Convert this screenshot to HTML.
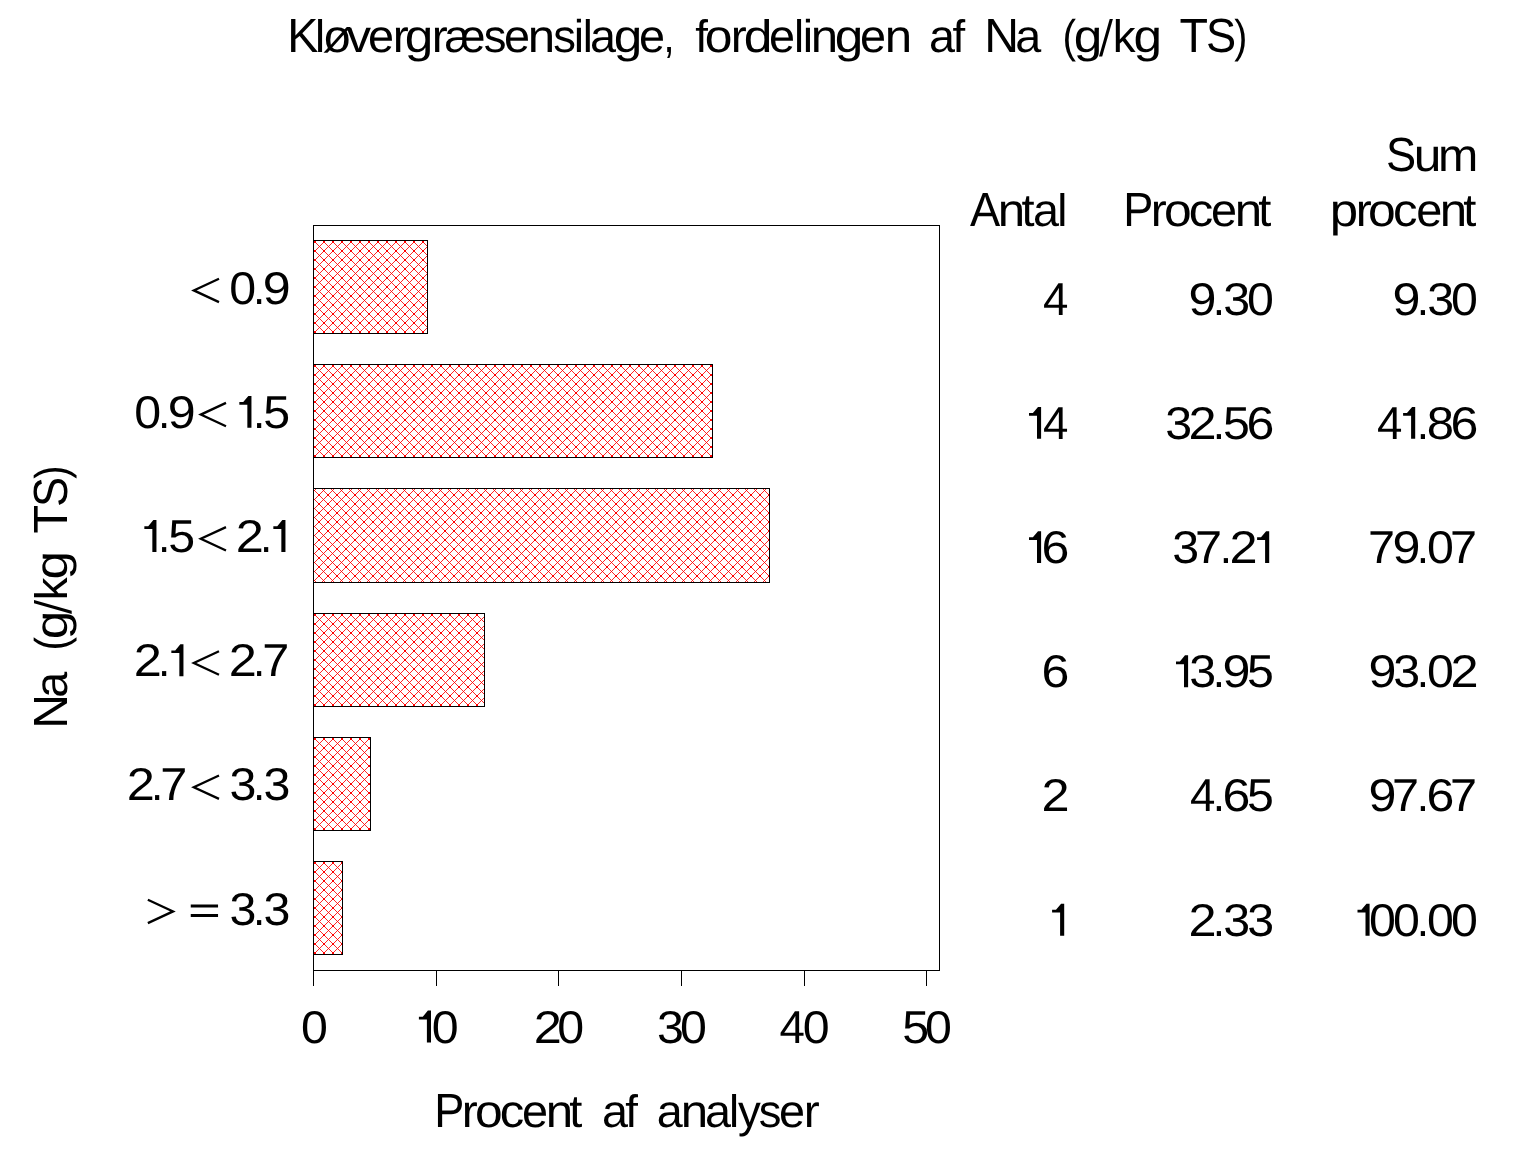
<!DOCTYPE html>
<html><head><meta charset="utf-8"><title>Kløvergræsensilage, fordelingen af Na (g/kg TS)</title>
<style>
html,body{margin:0;padding:0;background:#fff;overflow:hidden}
svg{display:block;will-change:transform}
text{font-family:"Liberation Sans",sans-serif;font-size:46px;fill:#000;text-rendering:geometricPrecision}
text.h{fill:none;stroke:none}
path.s{fill:none;stroke:#000;stroke-width:2.3;stroke-linejoin:miter}
</style></head><body>
<svg width="1536" height="1152" viewBox="0 0 1536 1152">
<rect width="1536" height="1152" fill="#fff"/>
<defs>
<pattern id="h0" x="315" y="242" width="9" height="9" patternUnits="userSpaceOnUse"><path d="M-1,-1L10,10M10,-1L-1,10" stroke="#f00" stroke-width="0.85" fill="none"/><path d="M-1,-1h2v2h-2zM8,-1h2v2h-2zM-1,8h2v2h-2zM8,8h2v2h-2z" fill="#f00"/></pattern>
<pattern id="h1" x="315" y="366" width="9" height="9" patternUnits="userSpaceOnUse"><path d="M-1,-1L10,10M10,-1L-1,10" stroke="#f00" stroke-width="0.85" fill="none"/><path d="M-1,-1h2v2h-2zM8,-1h2v2h-2zM-1,8h2v2h-2zM8,8h2v2h-2z" fill="#f00"/></pattern>
<pattern id="h2" x="319" y="495" width="9" height="9" patternUnits="userSpaceOnUse"><path d="M-1,-1L10,10M10,-1L-1,10" stroke="#f00" stroke-width="0.85" fill="none"/><path d="M-1,-1h2v2h-2zM8,-1h2v2h-2zM-1,8h2v2h-2zM8,8h2v2h-2z" fill="#f00"/></pattern>
<pattern id="h3" x="315" y="615" width="9" height="9" patternUnits="userSpaceOnUse"><path d="M-1,-1L10,10M10,-1L-1,10" stroke="#f00" stroke-width="0.85" fill="none"/><path d="M-1,-1h2v2h-2zM8,-1h2v2h-2zM-1,8h2v2h-2zM8,8h2v2h-2z" fill="#f00"/></pattern>
<pattern id="h4" x="315" y="739" width="9" height="9" patternUnits="userSpaceOnUse"><path d="M-1,-1L10,10M10,-1L-1,10" stroke="#f00" stroke-width="0.85" fill="none"/><path d="M-1,-1h2v2h-2zM8,-1h2v2h-2zM-1,8h2v2h-2zM8,8h2v2h-2z" fill="#f00"/></pattern>
<pattern id="h5" x="315" y="863" width="9" height="9" patternUnits="userSpaceOnUse"><path d="M-1,-1L10,10M10,-1L-1,10" stroke="#f00" stroke-width="0.85" fill="none"/><path d="M-1,-1h2v2h-2zM8,-1h2v2h-2zM-1,8h2v2h-2zM8,8h2v2h-2z" fill="#f00"/></pattern>
</defs>
<rect x="314.0" y="241.0" width="113" height="92" fill="url(#h0)"/>
<rect x="313.5" y="240.5" width="114" height="93" fill="none" stroke="#000"/>
<rect x="314.0" y="365.0" width="398" height="92" fill="url(#h1)"/>
<rect x="313.5" y="364.5" width="399" height="93" fill="none" stroke="#000"/>
<rect x="314.0" y="489.0" width="455" height="93" fill="url(#h2)"/>
<rect x="313.5" y="488.5" width="456" height="94" fill="none" stroke="#000"/>
<rect x="314.0" y="614.0" width="170" height="92" fill="url(#h3)"/>
<rect x="313.5" y="613.5" width="171" height="93" fill="none" stroke="#000"/>
<rect x="314.0" y="738.0" width="56" height="92" fill="url(#h4)"/>
<rect x="313.5" y="737.5" width="57" height="93" fill="none" stroke="#000"/>
<rect x="314.0" y="862.0" width="28" height="92" fill="url(#h5)"/>
<rect x="313.5" y="861.5" width="29" height="93" fill="none" stroke="#000"/>
<rect x="313.5" y="225.5" width="626" height="745" fill="none" stroke="#000"/>
<rect x="313" y="970" width="1" height="16"/>
<rect x="436" y="970" width="1" height="16"/>
<rect x="558" y="970" width="1" height="16"/>
<rect x="681" y="970" width="1" height="16"/>
<rect x="804" y="970" width="1" height="16"/>
<rect x="926" y="970" width="1" height="16"/>
<path d="M1109.70,18.90L1112.90,18.90L1102.20,56.60L1099.00,56.60Z"/>
<path d="M34.00,603.30L34.00,600.10L71.70,610.80L71.70,614.00Z"/>
<path d="M1037.00,438.85H1041.10V406.95H1038.00L1032.90,413.05H1029.00V415.75H1037.00Z"/>
<path d="M1411.10,438.85H1415.20V406.95H1412.10L1407.00,413.05H1403.10V415.75H1411.10Z"/>
<path d="M1037.00,563.05H1041.10V531.15H1038.00L1032.90,537.25H1029.00V539.95H1037.00Z"/>
<path d="M1265.10,563.05H1269.20V531.15H1266.10L1261.00,537.25H1257.10V539.95H1265.10Z"/>
<path d="M1184.00,687.25H1188.10V655.35H1185.00L1179.90,661.45H1176.00V664.15H1184.00Z"/>
<path d="M1060.10,935.65H1064.20V903.75H1061.10L1056.00,909.85H1052.10V912.55H1060.10Z"/>
<path d="M1365.50,935.65H1369.60V903.75H1366.50L1361.40,909.85H1357.50V912.55H1365.50Z"/>
<path d="M426.90,1042.50H431.00V1010.60H427.90L422.80,1016.70H418.90V1019.40H426.90Z"/>
<path class="s" d="M219.00,278.70L193.80,290.40L219.00,302.10"/>
<path d="M247.35,427.80H251.45V395.90H248.35L243.25,402.00H239.35V404.70H247.35Z"/>
<path class="s" d="M226.00,402.90L200.80,414.60L226.00,426.30"/>
<path d="M281.35,552.00H285.45V520.10H282.35L277.25,526.20H273.35V528.90H281.35Z"/>
<path class="s" d="M226.00,527.10L200.80,538.80L226.00,550.50"/>
<path d="M152.35,552.00H156.45V520.10H153.35L148.25,526.20H144.35V528.90H152.35Z"/>
<path class="s" d="M219.00,651.30L193.80,663.00L219.00,674.70"/>
<path d="M179.35,676.20H183.45V644.30H180.35L175.25,650.40H171.35V653.10H179.35Z"/>
<path class="s" d="M219.00,775.50L193.80,787.20L219.00,798.90"/>
<path d="M190.75,904.60h27.3v3h-27.3zM190.75,914.10h27.3v3h-27.3z"/>
<path class="s" d="M147.85,899.70L173.05,911.40L147.85,923.10"/>
<text transform="translate(287.17,52.00) scale(1.0150,1.0430)">K</text>
<text transform="translate(314.98,52.00) scale(0.9890,0.9900)">l</text>
<text transform="translate(322.47,52.00) scale(1.0450,1.0000)">ø</text>
<text transform="translate(346.53,52.00) scale(1.0670,1.0000)">v</text>
<text transform="translate(368.01,52.00) scale(1.0190,1.0000)">e</text>
<text transform="translate(392.71,52.00) scale(1.0430,1.0000)">r</text>
<text transform="translate(404.74,52.00) scale(1.1170,1.0000)">g</text>
<text transform="translate(431.81,52.00) scale(1.0430,1.0000)">r</text>
<text transform="translate(444.41,52.00) scale(1.0030,1.0000)">æ</text>
<text transform="translate(483.74,52.00) scale(0.9870,1.0000)">s</text>
<text transform="translate(504.01,52.00) scale(1.0190,1.0000)">e</text>
<text transform="translate(527.63,52.00) scale(1.0700,1.0000)">n</text>
<text transform="translate(553.14,52.00) scale(0.9870,1.0000)">s</text>
<text transform="translate(573.68,52.00) scale(1.0140,1.0000)">i</text>
<text transform="translate(582.83,52.00) scale(0.9890,0.9900)">l</text>
<text transform="translate(589.91,52.00) scale(1.0160,1.0000)">a</text>
<text transform="translate(613.84,52.00) scale(1.1170,1.0000)">g</text>
<text transform="translate(639.01,52.00) scale(1.0190,1.0000)">e</text>
<text transform="translate(663.53,52.00) scale(0.8640,1.0000)">,</text>
<text transform="translate(695.25,52.00) scale(0.9920,0.9900)">f</text>
<text transform="translate(704.81,52.00) scale(1.0820,1.0000)">o</text>
<text transform="translate(730.81,52.00) scale(1.0430,1.0000)">r</text>
<text transform="translate(743.73,52.00) scale(1.1220,0.9900)">d</text>
<text transform="translate(768.91,52.00) scale(1.0190,1.0000)">e</text>
<text transform="translate(793.93,52.00) scale(0.9890,0.9900)">l</text>
<text transform="translate(802.68,52.00) scale(1.0140,1.0000)">i</text>
<text transform="translate(810.73,52.00) scale(1.0700,1.0000)">n</text>
<text transform="translate(834.84,52.00) scale(1.1170,1.0000)">g</text>
<text transform="translate(860.01,52.00) scale(1.0190,1.0000)">e</text>
<text transform="translate(884.73,52.00) scale(1.0700,1.0000)">n</text>
<text transform="translate(928.91,52.00) scale(1.0160,1.0000)">a</text>
<text transform="translate(952.45,52.00) scale(0.9920,0.9900)">f</text>
<text transform="translate(984.25,52.00) scale(1.0470,1.0430)">N</text>
<text transform="translate(1015.31,52.00) scale(1.0160,1.0000)">a</text>
<text transform="translate(1062.47,52.00) scale(0.8860,1.0000)">(</text>
<text transform="translate(1073.64,52.00) scale(1.1170,1.0000)">g</text>
<text class="h" transform="translate(1099.00,52.00)">/</text>
<text transform="translate(1112.83,52.00) scale(0.9920,0.9900)">k</text>
<text transform="translate(1133.54,52.00) scale(1.1170,1.0000)">g</text>
<text transform="translate(1179.60,52.00) scale(1.0150,1.0430)">T</text>
<text transform="translate(1205.95,52.00) scale(0.9820,1.0430)">S</text>
<text transform="translate(1234.17,52.00) scale(0.8530,1.0000)">)</text>
<text transform="translate(1385.95,170.60) scale(0.9820,1.0430)">S</text>
<text transform="translate(1413.67,170.60) scale(1.0800,1.0000)">u</text>
<text transform="translate(1437.89,170.60) scale(1.0520,1.0000)">m</text>
<text transform="translate(969.91,225.80) scale(0.9840,1.0430)">A</text>
<text transform="translate(997.73,225.80) scale(1.0700,1.0000)">n</text>
<text transform="translate(1021.39,225.80) scale(1.0220,1.0000)">t</text>
<text transform="translate(1033.01,225.80) scale(1.0160,1.0000)">a</text>
<text transform="translate(1057.13,225.80) scale(0.9890,0.9900)">l</text>
<text transform="translate(1123.30,225.80) scale(0.9800,1.0430)">P</text>
<text transform="translate(1150.81,225.80) scale(1.0430,1.0000)">r</text>
<text transform="translate(1163.91,225.80) scale(1.0820,1.0000)">o</text>
<text transform="translate(1188.82,225.80) scale(1.0640,1.0000)">c</text>
<text transform="translate(1211.11,225.80) scale(1.0190,1.0000)">e</text>
<text transform="translate(1234.73,225.80) scale(1.0700,1.0000)">n</text>
<text transform="translate(1258.29,225.80) scale(1.0220,1.0000)">t</text>
<text transform="translate(1329.82,225.80) scale(1.1070,1.0000)">p</text>
<text transform="translate(1355.71,225.80) scale(1.0430,1.0000)">r</text>
<text transform="translate(1367.91,225.80) scale(1.0820,1.0000)">o</text>
<text transform="translate(1392.92,225.80) scale(1.0640,1.0000)">c</text>
<text transform="translate(1416.21,225.80) scale(1.0190,1.0000)">e</text>
<text transform="translate(1439.63,225.80) scale(1.0700,1.0000)">n</text>
<text transform="translate(1463.29,225.80) scale(1.0220,1.0000)">t</text>
<text transform="translate(434.30,1127.00) scale(0.9800,1.0430)">P</text>
<text transform="translate(461.81,1127.00) scale(1.0430,1.0000)">r</text>
<text transform="translate(474.91,1127.00) scale(1.0820,1.0000)">o</text>
<text transform="translate(499.82,1127.00) scale(1.0640,1.0000)">c</text>
<text transform="translate(522.11,1127.00) scale(1.0190,1.0000)">e</text>
<text transform="translate(545.73,1127.00) scale(1.0700,1.0000)">n</text>
<text transform="translate(569.29,1127.00) scale(1.0220,1.0000)">t</text>
<text transform="translate(602.01,1127.00) scale(1.0160,1.0000)">a</text>
<text transform="translate(625.25,1127.00) scale(0.9920,0.9900)">f</text>
<text transform="translate(656.81,1127.00) scale(1.0160,1.0000)">a</text>
<text transform="translate(680.73,1127.00) scale(1.0700,1.0000)">n</text>
<text transform="translate(705.11,1127.00) scale(1.0160,1.0000)">a</text>
<text transform="translate(728.93,1127.00) scale(0.9890,0.9900)">l</text>
<text transform="translate(737.99,1127.00) scale(0.9910,1.0000)">y</text>
<text transform="translate(758.64,1127.00) scale(0.9870,1.0000)">s</text>
<text transform="translate(779.01,1127.00) scale(1.0190,1.0000)">e</text>
<text transform="translate(803.81,1127.00) scale(1.0430,1.0000)">r</text>
<text transform="translate(67.10,728.75) rotate(-90) scale(1.0470,1.0430)">N</text>
<text transform="translate(67.10,697.69) rotate(-90) scale(1.0160,1.0000)">a</text>
<text transform="translate(67.10,650.53) rotate(-90) scale(0.8860,1.0000)">(</text>
<text transform="translate(67.10,639.36) rotate(-90) scale(1.1170,1.0000)">g</text>
<text class="h" transform="translate(67.10,614.00) rotate(-90)">/</text>
<text transform="translate(67.10,600.17) rotate(-90) scale(0.9920,0.9900)">k</text>
<text transform="translate(67.10,579.46) rotate(-90) scale(1.1170,1.0000)">g</text>
<text transform="translate(67.10,533.40) rotate(-90) scale(1.0150,1.0430)">T</text>
<text transform="translate(67.10,507.05) rotate(-90) scale(0.9820,1.0430)">S</text>
<text transform="translate(67.10,478.83) rotate(-90) scale(0.8530,1.0000)">)</text>
<text transform="translate(1042.95,314.65) scale(0.9922,1.0000)">4</text>
<text transform="translate(1247.06,314.65) scale(1.0505,1.0000)">0</text>
<text transform="translate(1223.21,314.65) scale(1.0500,1.0000)">3</text>
<text transform="translate(1212.67,314.65) scale(0.9590,1.0000)">.</text>
<text transform="translate(1188.55,314.65) scale(1.0919,1.0000)">9</text>
<text transform="translate(1451.06,314.65) scale(1.0505,1.0000)">0</text>
<text transform="translate(1427.21,314.65) scale(1.0500,1.0000)">3</text>
<text transform="translate(1416.67,314.65) scale(0.9590,1.0000)">.</text>
<text transform="translate(1392.55,314.65) scale(1.0919,1.0000)">9</text>
<text transform="translate(1042.95,438.85) scale(0.9922,1.0000)">4</text>
<text class="h" transform="translate(1026.50,438.85)">1</text>
<text transform="translate(1246.41,438.85) scale(1.0883,1.0000)">6</text>
<text transform="translate(1223.12,438.85) scale(1.0500,1.0000)">5</text>
<text transform="translate(1212.67,438.85) scale(0.9590,1.0000)">.</text>
<text transform="translate(1188.46,438.85) scale(1.0975,1.0000)">2</text>
<text transform="translate(1165.21,438.85) scale(1.0500,1.0000)">3</text>
<text transform="translate(1450.41,438.85) scale(1.0883,1.0000)">6</text>
<text transform="translate(1426.87,438.85) scale(1.0656,1.0000)">8</text>
<text transform="translate(1416.67,438.85) scale(0.9590,1.0000)">.</text>
<text class="h" transform="translate(1401.50,438.85)">1</text>
<text transform="translate(1376.95,438.85) scale(0.9922,1.0000)">4</text>
<text transform="translate(1041.41,563.05) scale(1.0883,1.0000)">6</text>
<text class="h" transform="translate(1026.50,563.05)">1</text>
<text class="h" transform="translate(1255.50,563.05)">1</text>
<text transform="translate(1229.46,563.05) scale(1.0975,1.0000)">2</text>
<text transform="translate(1219.67,563.05) scale(0.9590,1.0000)">.</text>
<text transform="translate(1194.91,563.05) scale(1.0569,1.0000)">7</text>
<text transform="translate(1172.21,563.05) scale(1.0500,1.0000)">3</text>
<text transform="translate(1449.91,563.05) scale(1.0569,1.0000)">7</text>
<text transform="translate(1427.06,563.05) scale(1.0505,1.0000)">0</text>
<text transform="translate(1416.67,563.05) scale(0.9590,1.0000)">.</text>
<text transform="translate(1392.55,563.05) scale(1.0919,1.0000)">9</text>
<text transform="translate(1367.91,563.05) scale(1.0569,1.0000)">7</text>
<text transform="translate(1041.41,687.25) scale(1.0883,1.0000)">6</text>
<text transform="translate(1247.12,687.25) scale(1.0500,1.0000)">5</text>
<text transform="translate(1222.55,687.25) scale(1.0919,1.0000)">9</text>
<text transform="translate(1212.67,687.25) scale(0.9590,1.0000)">.</text>
<text transform="translate(1189.21,687.25) scale(1.0500,1.0000)">3</text>
<text class="h" transform="translate(1173.50,687.25)">1</text>
<text transform="translate(1450.46,687.25) scale(1.0975,1.0000)">2</text>
<text transform="translate(1427.06,687.25) scale(1.0505,1.0000)">0</text>
<text transform="translate(1416.67,687.25) scale(0.9590,1.0000)">.</text>
<text transform="translate(1393.21,687.25) scale(1.0500,1.0000)">3</text>
<text transform="translate(1368.55,687.25) scale(1.0919,1.0000)">9</text>
<text transform="translate(1041.46,811.45) scale(1.0975,1.0000)">2</text>
<text transform="translate(1247.12,811.45) scale(1.0500,1.0000)">5</text>
<text transform="translate(1222.41,811.45) scale(1.0883,1.0000)">6</text>
<text transform="translate(1212.67,811.45) scale(0.9590,1.0000)">.</text>
<text transform="translate(1189.95,811.45) scale(0.9922,1.0000)">4</text>
<text transform="translate(1449.91,811.45) scale(1.0569,1.0000)">7</text>
<text transform="translate(1426.41,811.45) scale(1.0883,1.0000)">6</text>
<text transform="translate(1416.67,811.45) scale(0.9590,1.0000)">.</text>
<text transform="translate(1391.91,811.45) scale(1.0569,1.0000)">7</text>
<text transform="translate(1368.55,811.45) scale(1.0919,1.0000)">9</text>
<text class="h" transform="translate(1050.50,935.65)">1</text>
<text transform="translate(1247.21,935.65) scale(1.0500,1.0000)">3</text>
<text transform="translate(1223.21,935.65) scale(1.0500,1.0000)">3</text>
<text transform="translate(1212.67,935.65) scale(0.9590,1.0000)">.</text>
<text transform="translate(1188.46,935.65) scale(1.0975,1.0000)">2</text>
<text transform="translate(1451.06,935.65) scale(1.0505,1.0000)">0</text>
<text transform="translate(1427.06,935.65) scale(1.0505,1.0000)">0</text>
<text transform="translate(1416.67,935.65) scale(0.9590,1.0000)">.</text>
<text transform="translate(1393.06,935.65) scale(1.0505,1.0000)">0</text>
<text transform="translate(1369.06,935.65) scale(1.0505,1.0000)">0</text>
<text class="h" transform="translate(1353.50,935.65)">1</text>
<text transform="translate(301.11,1042.50) scale(1.0505,1.0000)">0</text>
<text class="h" transform="translate(418,1042.5)">1</text>
<text transform="translate(431.86,1042.50) scale(1.0505,1.0000)">0</text>
<text transform="translate(533.71,1042.50) scale(1.0975,1.0000)">2</text>
<text transform="translate(557.21,1042.50) scale(1.0505,1.0000)">0</text>
<text transform="translate(656.91,1042.50) scale(1.0500,1.0000)">3</text>
<text transform="translate(680.01,1042.50) scale(1.0505,1.0000)">0</text>
<text transform="translate(779.55,1042.50) scale(0.9922,1.0000)">4</text>
<text transform="translate(802.86,1042.50) scale(1.0505,1.0000)">0</text>
<text transform="translate(902.32,1042.50) scale(1.0500,1.0000)">5</text>
<text transform="translate(924.91,1042.50) scale(1.0505,1.0000)">0</text>
<text transform="translate(262.80,303.60) scale(1.0919,1.0000)">9</text>
<text transform="translate(252.92,303.60) scale(0.9590,1.0000)">.</text>
<text transform="translate(229.31,303.60) scale(1.0505,1.0000)">0</text>
<text class="h" transform="translate(192.00,303.60)">&lt;</text>
<text transform="translate(263.37,427.80) scale(1.0500,1.0000)">5</text>
<text transform="translate(252.92,427.80) scale(0.9590,1.0000)">.</text>
<text class="h" transform="translate(237.75,427.80)">1</text>
<text class="h" transform="translate(199.00,427.80)">&lt;</text>
<text transform="translate(167.80,427.80) scale(1.0919,1.0000)">9</text>
<text transform="translate(157.92,427.80) scale(0.9590,1.0000)">.</text>
<text transform="translate(134.31,427.80) scale(1.0505,1.0000)">0</text>
<text class="h" transform="translate(271.75,552.00)">1</text>
<text transform="translate(259.92,552.00) scale(0.9590,1.0000)">.</text>
<text transform="translate(235.71,552.00) scale(1.0975,1.0000)">2</text>
<text class="h" transform="translate(199.00,552.00)">&lt;</text>
<text transform="translate(168.37,552.00) scale(1.0500,1.0000)">5</text>
<text transform="translate(157.92,552.00) scale(0.9590,1.0000)">.</text>
<text class="h" transform="translate(142.75,552.00)">1</text>
<text transform="translate(262.16,676.20) scale(1.0569,1.0000)">7</text>
<text transform="translate(252.92,676.20) scale(0.9590,1.0000)">.</text>
<text transform="translate(228.71,676.20) scale(1.0975,1.0000)">2</text>
<text class="h" transform="translate(192.00,676.20)">&lt;</text>
<text class="h" transform="translate(169.75,676.20)">1</text>
<text transform="translate(157.92,676.20) scale(0.9590,1.0000)">.</text>
<text transform="translate(133.71,676.20) scale(1.0975,1.0000)">2</text>
<text transform="translate(263.46,800.40) scale(1.0500,1.0000)">3</text>
<text transform="translate(252.92,800.40) scale(0.9590,1.0000)">.</text>
<text transform="translate(229.46,800.40) scale(1.0500,1.0000)">3</text>
<text class="h" transform="translate(192.00,800.40)">&lt;</text>
<text transform="translate(160.16,800.40) scale(1.0569,1.0000)">7</text>
<text transform="translate(150.92,800.40) scale(0.9590,1.0000)">.</text>
<text transform="translate(126.71,800.40) scale(1.0975,1.0000)">2</text>
<text transform="translate(263.46,924.60) scale(1.0500,1.0000)">3</text>
<text transform="translate(252.92,924.60) scale(0.9590,1.0000)">.</text>
<text transform="translate(229.46,924.60) scale(1.0500,1.0000)">3</text>
<text class="h" transform="translate(190.75,924.60)">=</text>
<text class="h" transform="translate(147.85,924.60)">&gt;</text>
</svg>
</body></html>
